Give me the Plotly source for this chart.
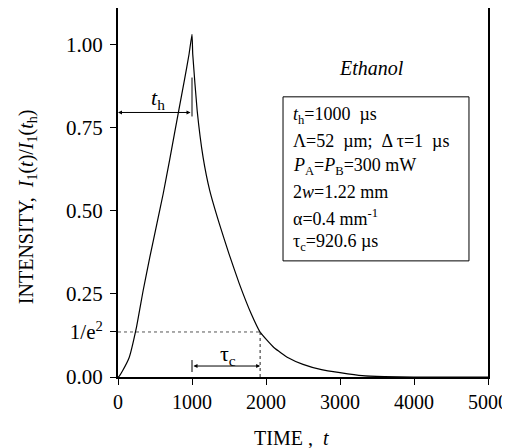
import plotly.graph_objects as go

# ---- data ----
time_us = [0, 15, 60, 150, 250, 340, 430, 525, 610, 700, 820, 900, 960, 1000,
           1010, 1070, 1150, 1240, 1370, 1500, 1640, 1800, 1920, 2110, 2300,
           2500, 2750, 3000, 3300, 3600, 4000, 5000]
intensity = [0.0, 0.002, 0.018, 0.058, 0.15, 0.26, 0.36, 0.46, 0.55, 0.655, 0.80, 0.895, 0.97, 1.03,
             0.97, 0.80, 0.66, 0.56, 0.46, 0.37, 0.28, 0.19, 0.135, 0.088, 0.058,
             0.038, 0.022, 0.013, 0.004, 0.001, 0.0, 0.0]

x_ticks = [0, 1000, 2000, 3000, 4000, 5000]
x_tick_text = ["0", "1000", "2000", "3000", "4000", "5000"]
y_tick_vals = [0.0, 0.1353, 0.25, 0.50, 0.75, 1.00]
y_tick_text = ["0.00", "1/e<sup>2</sup>", "0.25", "0.50", "0.75", "1.00"]

t_h = 1000
tau_c = 920.6
inv_e2 = 0.1353
th_level = 0.795
tau_level = 0.033

box_lines = [
    "<i>t</i><sub>h</sub>=1000  µs",
    "Λ=52  µm;  Δ τ=1  µs",
    "<i>P</i><sub>A</sub>=<i>P</i><sub>B</sub>=300 mW",
    "2<i>w</i>=1.22 mm",
    "α=0.4 mm<sup>-1</sup>",
    "τ<sub>c</sub>=920.6 µs",
]

FONT = "Liberation Serif"

fig = go.Figure()
fig.add_trace(go.Scatter(x=time_us, y=intensity, mode="lines",
                         line=dict(color="black", width=1.2, shape="spline", smoothing=0.4),
                         showlegend=False, hoverinfo="skip"))

shapes = []
# dotted 1/e^2 guide lines
shapes.append(dict(type="line", xref="x", yref="y", x0=0, x1=t_h + tau_c, y0=inv_e2, y1=inv_e2,
                   line=dict(color="#555", width=1, dash="dot")))
shapes.append(dict(type="line", xref="x", yref="y", x0=t_h + tau_c, x1=t_h + tau_c, y0=0, y1=inv_e2,
                   line=dict(color="#222", width=1, dash="dot")))
# bars at t_h
shapes.append(dict(type="line", xref="x", yref="y", x0=t_h, x1=t_h, y0=th_level - 0.012, y1=0.9,
                   line=dict(color="black", width=1)))
shapes.append(dict(type="line", xref="x", yref="y", x0=t_h, x1=t_h, y0=tau_level - 0.018, y1=tau_level + 0.018,
                   line=dict(color="black", width=1)))
# parameter box
shapes.append(dict(type="rect", xref="x", yref="y", x0=2230, x1=4743, y0=0.349, y1=0.842,
                   line=dict(color="black", width=1), fillcolor="white"))

annotations = []
# t_h double arrow
annotations.append(dict(x=0, y=th_level, ax=t_h, ay=th_level, xref="x", yref="y", axref="x", ayref="y",
                        text="", showarrow=True, arrowhead=2, arrowside="end+start",
                        arrowsize=0.8, arrowwidth=1, arrowcolor="black"))
annotations.append(dict(x=535, y=0.835, xref="x", yref="y", text="<i>t</i><sub>h</sub>",
                        showarrow=False, font=dict(family=FONT, size=22, color="black")))
# tau_c arrow
annotations.append(dict(x=t_h + tau_c, y=tau_level, ax=t_h, ay=tau_level, xref="x", yref="y",
                        axref="x", ayref="y", text="", showarrow=True, arrowhead=2,
                        arrowside="end+start", arrowsize=0.8, arrowwidth=1, arrowcolor="black"))
annotations.append(dict(x=1480, y=0.065, xref="x", yref="y", text="τ<sub>c</sub>",
                        showarrow=False, font=dict(family=FONT, size=22, color="black")))
# Ethanol
annotations.append(dict(x=3432, y=0.93, xref="x", yref="y", text="<i>Ethanol</i>",
                        showarrow=False, font=dict(family=FONT, size=20, color="black")))
# box text
line_levels = [0.785, 0.709, 0.632, 0.557, 0.480, 0.403]
for txt, lv in zip(box_lines, line_levels):
    annotations.append(dict(x=2338, y=lv, xref="x", yref="y", text=txt, xanchor="left",
                            showarrow=False, font=dict(family=FONT, size=18, color="black")))
# axis titles
annotations.append(dict(x=-0.246, y=0.463, xref="paper", yref="paper", textangle=-90,
                        xanchor="center", yanchor="middle",
                        text="INTENSITY,  <i>I</i><sub>1</sub>(<i>t</i>)/<i>I</i><sub>1</sub>(<i>t</i><sub>h</sub>)",
                        showarrow=False, font=dict(family=FONT, size=20, color="black")))
annotations.append(dict(x=0.468, y=-0.165, xref="paper", yref="paper",
                        xanchor="center", yanchor="middle",
                        text="TIME ,  <i>t</i>",
                        showarrow=False, font=dict(family=FONT, size=20, color="black")))

fig.update_layout(
    width=503, height=441,
    margin=dict(l=110, r=23, t=0, b=72),
    paper_bgcolor="white", plot_bgcolor="white",
    shapes=shapes, annotations=annotations,
    font=dict(family=FONT, size=20, color="black"),
    xaxis=dict(range=[0, 5000], tickvals=x_ticks, ticktext=x_tick_text, ticks="outside",
               ticklen=6, tickwidth=1, ticklabeloverflow="allow",
               tickcolor="black", showline=True, linecolor="black", linewidth=2, mirror=True,
               showgrid=False, zeroline=False, automargin=False,
               tickfont=dict(family=FONT, size=20)),
    yaxis=dict(range=[0, 1.109], tickvals=y_tick_vals, ticktext=y_tick_text, ticks="outside",
               ticklen=6, tickwidth=1, tickcolor="black", showline=True, linecolor="black",
               linewidth=2, mirror=True, showgrid=False, zeroline=False, automargin=False,
               ticklabelstandoff=3, tickfont=dict(family=FONT, size=21)),
)

fig.write_html("out.html")
